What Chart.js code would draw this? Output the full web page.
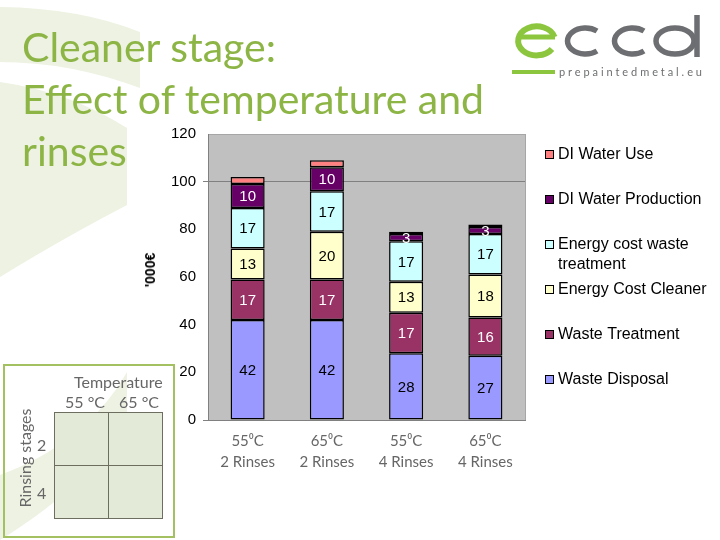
<!DOCTYPE html>
<html>
<head>
<meta charset="utf-8">
<script src="https://cdn.jsdelivr.net/npm/chart.js@4/dist/chart.umd.min.js"></script>
<style>
  body { margin: 0; background: #fff; }
  #wrap { position: relative; width: 720px; height: 540px; overflow: hidden; font-family: 'Lato', sans-serif; }
  #bg, #logo { position: absolute; left: 0; top: 0; }
  #white { position: absolute; left: 127px; top: 107px; width: 593px; height: 433px; background: #fff; }
  #chart { position: absolute; left: 0; top: 0; }
  .title { position: absolute; left: 22px; top: 21px; color: #8CB545; font-size: 41px; line-height: 52px; white-space: nowrap; }
  .ytitle { position: absolute; left: 150px; top: 270px; transform: translate(-50%, -50%) rotate(-90deg); font: bold 14px 'Liberation Sans', Arial, sans-serif; }
  #matrix { position: absolute; left: 3px; top: 364px; width: 168px; height: 170px; border: 2px solid #A4C162; color: #666; font-size: 16px; }
  #matrix div { position: absolute; }
  .cell { background: #E4EAD8; border: 1px solid #6E6E60; width: 53px; height: 52px; }
</style>
</head>
<body>
<div id="wrap">
  <svg id="bg" width="720" height="540">
    <path d="M0,7 Q80,8 140,32 L140,88 Q70,62 0,62 Z" fill="#EDF2E2"/>
    <path d="M0,82 Q70,92 127,128 L127,205 Q60,240 0,277 Z" fill="#EDF2E2"/>
    <path d="M0,475 C55,455 100,420 127,372 L127,420 C90,480 40,515 0,540 Z" fill="#EDF2E2"/>
  </svg>
  <div id="white"></div>
  <canvas id="chart" width="720" height="540"></canvas>
  <div class="title">Cleaner stage:<br>Effect of temperature and<br>rinses</div>
  <div class="ytitle">'000€</div>
  <svg id="logo" width="720" height="100">
    <path d="M554.5,37 A18.5,14.5 0 1 0 552,49" fill="none" stroke="#8CC63F" stroke-width="6"/>
    <path d="M517,37 L555,37" stroke="#8CC63F" stroke-width="5"/>
    <path d="M597,31 A18,13 0 1 0 597,51" fill="none" stroke="#6D6E71" stroke-width="5.5"/>
    <path d="M644,31 A18,13 0 1 0 644,51" fill="none" stroke="#6D6E71" stroke-width="5.5"/>
    <ellipse cx="675" cy="41" rx="19" ry="13" fill="none" stroke="#6D6E71" stroke-width="5.5"/>
    <path d="M697,15 L697,57" stroke="#6D6E71" stroke-width="5.5"/>
    <rect x="512" y="70" width="43" height="4" fill="#8CC63F"/>
    <text x="559" y="76" font-family="Lato, sans-serif" font-size="11" textLength="143" lengthAdjust="spacing" fill="#6D6E71">prepaintedmetal.eu</text>
  </svg>
  <div id="matrix">
    <div style="left:69px; top:6px;">Temperature</div>
    <div style="left:60px; top:26px;">55 °C</div>
    <div style="left:114px; top:26px;">65 °C</div>
    <div class="cell" style="left:49px; top:46px;"></div>
    <div class="cell" style="left:103px; top:46px;"></div>
    <div class="cell" style="left:49px; top:99px;"></div>
    <div class="cell" style="left:103px; top:99px;"></div>
    <div style="left:32px; top:69px;">2</div>
    <div style="left:32px; top:117px;">4</div>
    <div style="left:19px; top:92px; transform: translate(-50%, -50%) rotate(-90deg); white-space: nowrap;">Rinsing stages</div>
  </div>
</div>
<script>
// categorias e séries (valores em milhares de euros)
const categories = [['55⁰C', '2 Rinses'], ['65⁰C', '2 Rinses'], ['55⁰C', '4 Rinses'], ['65⁰C', '4 Rinses']];
const seriesNames = ['Waste Disposal', 'Waste Treatment', 'Energy Cost Cleaner', 'Energy cost waste treatment', 'DI Water Production', 'DI Water Use'];
const wasteDisposal = [42, 42, 28, 27];
const wasteTreatment = [17, 17, 17, 16];
const energyCleaner = [13, 20, 13, 18];
const energyWaste = [17, 17, 17, 17];
const diProduction = [10, 10, 3, 3];
const diUse = [3, 3, 1, 1];
const yTicks = [0, 20, 40, 60, 80, 100, 120];

const colors = ['#9999FF', '#993366', '#FFFFCC', '#CCFFFF', '#660066', '#FF8080'];
const labelColors = ['#000', '#fff', '#000', '#000', '#fff', null];
const values = [wasteDisposal, wasteTreatment, energyCleaner, energyWaste, diProduction, diUse];

const datasets = values.map((v, i) => ({
    label: seriesNames[i],
    data: v,
    backgroundColor: colors[i],
    borderColor: '#000',
    borderWidth: 1.5,
    borderSkipped: false,
    categoryPercentage: 1,
    barPercentage: 0.43
}));

// fundo cinza da área do gráfico
const plotBg = {
    id: 'plotBg',
    beforeDraw(chart) {
        const { ctx, chartArea: a } = chart;
        ctx.save();
        ctx.fillStyle = '#C0C0C0';
        ctx.fillRect(a.left, a.top, a.right - a.left, a.bottom - a.top);
        ctx.strokeStyle = '#A6A6A6';
        ctx.lineWidth = 1;
        ctx.strokeRect(a.left + 0.5, a.top + 0.5, a.right - a.left, a.bottom - a.top);
        ctx.restore();
    }
};

// rótulos de valor dentro das barras
const barLabels = {
    id: 'barLabels',
    afterDatasetsDraw(chart) {
        const ctx = chart.ctx;
        ctx.save();
        ctx.font = '15px "Liberation Sans", Arial, sans-serif';
        ctx.textAlign = 'center';
        ctx.textBaseline = 'middle';
        chart.data.datasets.forEach((ds, i) => {
            if (!labelColors[i]) return;
            ctx.fillStyle = labelColors[i];
            chart.getDatasetMeta(i).data.forEach((bar, j) => {
                ctx.fillText(ds.data[j], bar.x, (bar.y + bar.base) / 2 + 1);
            });
        });
        ctx.restore();
    }
};

// legenda desenhada à direita, com quebra de linha
const sideLegend = {
    id: 'sideLegend',
    afterDraw(chart) {
        const ctx = chart.ctx;
        ctx.save();
        ctx.font = '16px "Liberation Sans", Arial, sans-serif';
        ctx.textBaseline = 'middle';
        let y = 155;
        for (let i = chart.data.datasets.length - 1; i >= 0; i--) {
            const ds = chart.data.datasets[i];
            ctx.fillStyle = ds.backgroundColor;
            ctx.fillRect(545, y - 5, 9, 9);
            ctx.strokeStyle = '#000';
            ctx.lineWidth = 1;
            ctx.strokeRect(545.5, y - 4.5, 8, 8);
            // quebra o texto se passar da largura
            const words = ds.label.split(' ');
            let line = '', ly = y;
            ctx.fillStyle = '#000';
            words.forEach(w => {
                const test = line ? line + ' ' + w : w;
                if (ctx.measureText(test).width > 155 && line) {
                    ctx.fillText(line, 558, ly);
                    line = w;
                    ly += 20;
                } else {
                    line = test;
                }
            });
            ctx.fillText(line, 558, ly);
            y += 45;
        }
        ctx.restore();
    }
};

new Chart(document.getElementById('chart'), {
    type: 'bar',
    data: { labels: categories, datasets: datasets },
    options: {
        responsive: false,
        animation: false,
        layout: { padding: { left: 160, top: 134, right: 195, bottom: 60 } },
        plugins: { legend: { display: false }, tooltip: { enabled: false } },
        scales: {
            x: {
                stacked: true,
                afterFit(scale) { scale.height = 60; },
                grid: { display: false },
                border: { color: '#808080' },
                ticks: {
                    color: '#666666',
                    padding: 3,
                    font: { family: 'Lato', size: 15, lineHeight: 1.4 }
                }
            },
            y: {
                stacked: true,
                min: 0,
                max: 120,
                afterFit(scale) { scale.width = 48; },
                afterBuildTicks(scale) { scale.ticks = yTicks.map(v => ({ value: v })); },
                border: { color: '#808080' },
                grid: {
                    color: c => (c.tick && (c.tick.value === 100 || c.tick.value === 0)) ? '#808080' : 'rgba(0,0,0,0)',
                    tickLength: 5
                },
                ticks: {
                    color: '#000',
                    padding: 7,
                    font: { family: 'Liberation Sans', size: 15 }
                }
            }
        }
    },
    plugins: [plotBg, barLabels, sideLegend]
});
</script>
</body>
</html>
